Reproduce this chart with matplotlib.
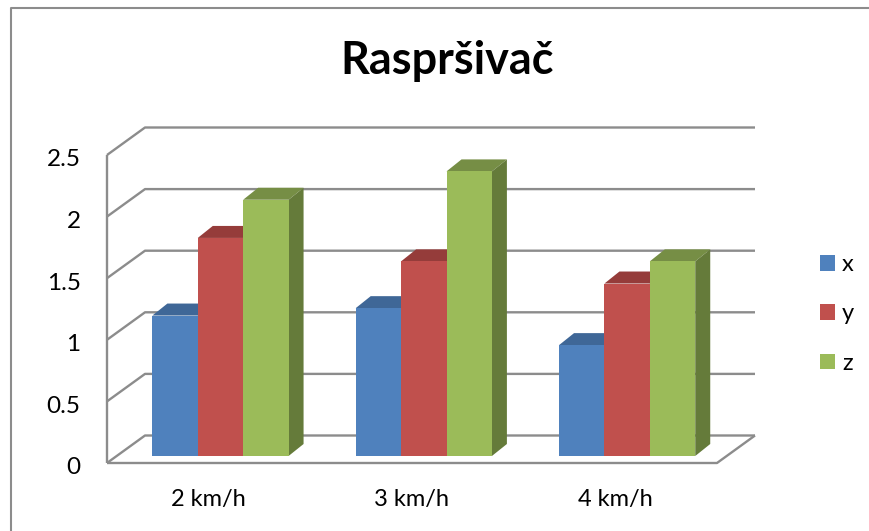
import matplotlib
matplotlib.use("Agg")
import matplotlib.pyplot as plt
from matplotlib.patches import Polygon, Patch
from matplotlib.lines import Line2D
from matplotlib.transforms import Affine2D

categories = ["2 km/h", "3 km/h", "4 km/h"]
series_names = ["x", "y", "z"]
x_values = [1.14, 1.20, 0.90]
y_values = [1.77, 1.58, 1.40]
z_values = [2.08, 2.31, 1.58]
y_ticks = [0, 0.5, 1, 1.5, 2, 2.5]
y_tick_labels = ["0", "0.5", "1", "1.5", "2", "2.5"]
series = [x_values, y_values, z_values]

front_colors = ["#4F81BD", "#C0504D", "#9BBB59"]
top_colors = ["#3F6797", "#953C3A", "#768E45"]
side_colors = ["#375A84", "#823432", "#657B3A"]
GRID = "#8C8C8C"
FONT = "Lato"

W, H = 869, 531
fig = plt.figure(figsize=(W / 100, H / 100), dpi=100, facecolor="white")
L, R, B, T = 107, 717, 463, 155
ax = fig.add_axes([L / W, 1 - B / H, (R - L) / W, (B - T) / H])
ax.set_xlim(-0.5, 2.5)
ax.set_ylim(0, 2.5)
ax.patch.set_visible(False)
for s in ax.spines.values():
    s.set_visible(False)

px = 3 / (R - L)          # category units per pixel
py = 2.5 / (B - T)        # value units per pixel
back_dx, back_dy = 38 * px, 27.5 * py
bar_w = 45.4 * px
shift_x, base = 11.8 * px, 7 * py
depth_x, depth_y = 15 * px, 12 * py

# chart walls and floor
lw = 1.7
kw = dict(color=GRID, lw=lw, clip_on=False, zorder=1, solid_capstyle="butt")
x0, x1 = -0.5, 2.5
for t in y_ticks:
    ax.plot([x0, x0 + back_dx, x1 + back_dx],
            [t, t + back_dy, t + back_dy], **kw)
ax.plot([x0, x0], [0, 2.5], **kw)
ax.plot([x0, x1, x1 + back_dx], [0, 0, back_dy], **kw)

# bars
for s, vals in enumerate(series):
    for c, v in enumerate(vals):
        xc = c + shift_x + (s - 1) * bar_w
        l, r = xc - bar_w / 2, xc + bar_w / 2
        top = base + v
        ax.bar(xc, v, width=bar_w, bottom=base, color=front_colors[s],
               clip_on=False, zorder=2 + s * 2 + 1, linewidth=0)
        ax.add_patch(Polygon([(l, top), (r, top), (r + depth_x, top + depth_y),
                              (l + depth_x, top + depth_y)],
                             closed=True, fc=top_colors[s], lw=0,
                             clip_on=False, zorder=2 + s * 2))
        ax.add_patch(Polygon([(r, base), (r + depth_x, base + depth_y),
                              (r + depth_x, top + depth_y), (r, top)],
                             closed=True, fc=side_colors[s], lw=0,
                             clip_on=False, zorder=2 + s * 2))

ax.set_xticks(range(len(categories)))
ax.set_xticklabels(categories, fontname=FONT, fontsize=17)
ax.set_yticks(y_ticks)
ax.set_yticklabels(y_tick_labels, fontname=FONT, fontsize=17.5, va="center")
ax.tick_params(axis="x", length=0, pad=19)
ax.tick_params(axis="y", length=0, pad=19)
for lbl in ax.get_yticklabels():
    lbl.set_transform(lbl.get_transform() + Affine2D().translate(0, -5))

# title
fig.text(447.5 / W, 1 - 61 / H, "Raspršivač", fontname=FONT, fontweight="bold",
         fontsize=32.4, ha="center", va="center", color="black")

# legend
handles = [Patch(fc=c, lw=0) for c in front_colors]
fig.legend(handles, series_names, loc="center left",
           bbox_to_anchor=(820 / W, 1 - 314 / H), frameon=False,
           prop={"family": FONT, "size": 17}, borderpad=0, borderaxespad=0,
           handlelength=0.635, handleheight=0.635, handletextpad=0.3,
           labelspacing=1.2)

# chart-area border: left and top edges only
fig.add_artist(Line2D([10.5 / W, 10.5 / W, 1], [0, 1 - 7.5 / H, 1 - 7.5 / H],
                      transform=fig.transFigure, color="#8C8C8C", lw=1.5))

fig.savefig("out.png", dpi=100)
